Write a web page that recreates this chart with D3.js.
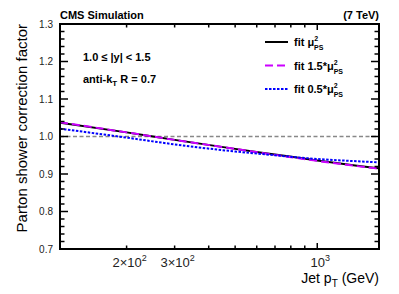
<!DOCTYPE html>
<html>
<head>
<meta charset="utf-8">
<script src="https://cdn.jsdelivr.net/npm/d3@7"></script>
<style>
  body { margin: 0; background: #fff; }
  text { font-family: "Liberation Sans", Arial, Helvetica, sans-serif; }
</style>
</head>
<body>
<div id="viz"></div>
<script>
// values
var ptPoints   = [114, 200, 300, 500, 700, 1000, 1400, 1684];
var fitNominal = [1.037, 1.011, 0.991, 0.967, 0.952, 0.936, 0.922, 0.915];
var fitUp      = [1.038, 1.011, 0.991, 0.967, 0.951, 0.935, 0.921, 0.914];
var fitDown    = [1.021, 0.997, 0.979, 0.960, 0.950, 0.940, 0.934, 0.931];
var refLevel   = [1.0, 1.0];
var refPt      = [114, 1684];

var yTicks       = [0.7, 0.8, 0.9, 1.0, 1.1, 1.2, 1.3];
var yMinorTicks  = d3.range(35, 66).map(function(i) { return i / 50; });
var xLabelTicks  = [200, 300, 1000];
var xLabelBase   = ["2×10", "3×10", "10"];
var xLabelExp    = ["2", "2", "3"];
var xMinorTicks  = [200, 300, 400, 500, 600, 700, 800, 900];
var xMajorTicks  = [1000];

var legendNames = ["fit μ", "fit 1.5*μ", "fit 0.5*μ"];

var W = 399, H = 294;
// frame edges (window.top is read-only, so don't name these top/left)
var frameL = 60, frameR = 379, frameT = 24, frameB = 249;

var svg = d3.select('#viz').append('svg')
  .attr('width', W).attr('height', H);

var x = d3.scaleLog().domain([114, 1684]).range([frameL, frameR]);
var y = d3.scaleLinear().domain([0.7, 1.3]).range([frameB, frameT]);

// clip curves to the frame
svg.append('clipPath').attr('id', 'frame')
  .append('rect').attr('x', frameL).attr('y', frameT)
  .attr('width', frameR - frameL).attr('height', frameB - frameT);

var series = [
  { values: fitNominal, color: '#000000', dash: null },
  { values: fitUp,      color: '#cc00ff', dash: '8,4' },
  { values: fitDown,    color: '#0000ff', dash: '2.5,1.5' }
];

var line = d3.line()
  .x(function(d) { return x(d[0]); })
  .y(function(d) { return y(d[1]); })
  .curve(d3.curveMonotoneX);

var plot = svg.append('g').attr('clip-path', 'url(#frame)');

// dashed reference at 1.0
plot.append('path')
  .datum(d3.zip(refPt, refLevel))
  .attr('d', line)
  .style('fill', 'none')
  .style('stroke', '#888')
  .style('stroke-width', 1.5)
  .style('stroke-dasharray', '4,2.5');

series.forEach(function(s) {
  plot.append('path')
    .datum(d3.zip(ptPoints, s.values))
    .attr('d', line)
    .style('fill', 'none')
    .style('stroke', s.color)
    .style('stroke-width', 2)
    .style('stroke-dasharray', s.dash);
});

// axes: ticks point inward, on all four sides
var yMajorLen = 8, yMinorLen = 4.5, xMajorLen = 6, xMinorLen = 3.5;

function tickLines(data, x1, y1, x2, y2) {
  svg.append('g').selectAll('line').data(data).enter()
    .append('line')
    .style('stroke', '#000')
    .style('stroke-width', 1.5)
    .attr('x1', x1).attr('y1', y1).attr('x2', x2).attr('y2', y2);
}
var isMajorY = function(d) { return Math.abs(d * 10 - Math.round(d * 10)) < 1e-6; };
var yLen = function(d) { return isMajorY(d) ? yMajorLen : yMinorLen; };

tickLines(yMinorTicks, frameL, y, function(d) { return frameL + yLen(d); }, y);
tickLines(yMinorTicks, frameR, y, function(d) { return frameR - yLen(d); }, y);
tickLines(xMinorTicks, x, frameB, x, frameB - xMinorLen);
tickLines(xMinorTicks, x, frameT, x, frameT + xMinorLen);
tickLines(xMajorTicks, x, frameB, x, frameB - xMajorLen);
tickLines(xMajorTicks, x, frameT, x, frameT + xMajorLen);

// frame
svg.append('rect')
  .attr('x', frameL).attr('y', frameT)
  .attr('width', frameR - frameL).attr('height', frameB - frameT)
  .style('fill', 'none').style('stroke', '#000').style('stroke-width', 2);

// y tick labels
svg.append('g').selectAll('text').data(yTicks).enter()
  .append('text')
  .attr('x', frameL - 7)
  .attr('y', function(d) { return y(d) + 3.5; })
  .attr('text-anchor', 'end')
  .style('font-size', '10px')
  .style('fill', '#222')
  .text(d3.format('.1f'));

// x tick labels with exponents
var xl = svg.append('g').selectAll('text').data(xLabelTicks).enter()
  .append('text')
  .attr('x', function(d) { return x(d) + 3; })
  .attr('y', 267)
  .attr('text-anchor', 'middle')
  .style('font-size', '13px')
  .style('fill', '#222');
xl.append('tspan').text(function(d, i) { return xLabelBase[i]; });
xl.append('tspan').attr('dy', -6).style('font-size', '9px')
  .text(function(d, i) { return xLabelExp[i]; });

// axis titles
var xt = svg.append('text')
  .attr('x', frameR).attr('y', 283)
  .attr('text-anchor', 'end')
  .style('font-size', '14px');
xt.append('tspan').text('Jet p');
xt.append('tspan').attr('dy', 4).style('font-size', '10px').text('T');
xt.append('tspan').attr('dy', -4).text(' (GeV)');

svg.append('text')
  .attr('transform', 'translate(27,' + frameT + ') rotate(-90)')
  .attr('text-anchor', 'end')
  .style('font-size', '15px')
  .text('Parton shower correction factor');

// header
svg.append('text').attr('x', frameL).attr('y', 19)
  .style('font-size', '11px').style('font-weight', 'bold')
  .text('CMS Simulation');
svg.append('text').attr('x', frameR).attr('y', 19)
  .attr('text-anchor', 'end')
  .style('font-size', '11px').style('font-weight', 'bold')
  .text('(7 TeV)');

// annotations
svg.append('text').attr('x', 83).attr('y', 61)
  .style('font-size', '11px').style('font-weight', 'bold')
  .text('1.0 ≤ |y| < 1.5');
var ak = svg.append('text').attr('x', 83).attr('y', 83)
  .style('font-size', '11px').style('font-weight', 'bold');
ak.append('tspan').text('anti-k');
ak.append('tspan').attr('dy', 3).style('font-size', '8px').text('T');
ak.append('tspan').attr('dy', -3).text(' R = 0.7');

// legend
var legendY = [42, 65.5, 89];
var lg = svg.append('g').selectAll('g').data(series).enter()
  .append('g')
  .attr('transform', function(d, i) { return 'translate(265,' + legendY[i] + ')'; });
lg.append('line')
  .attr('x1', 0).attr('x2', 23).attr('y1', 0).attr('y2', 0)
  .style('stroke', function(d) { return d.color; })
  .style('stroke-width', 2)
  .style('stroke-dasharray', function(d) { return d.dash; });
var lt = lg.append('text')
  .attr('x', 29).attr('y', 4)
  .style('font-size', '11px').style('font-weight', 'bold');
lt.append('tspan').text(function(d, i) { return legendNames[i]; });
lt.append('tspan').attr('dy', -5).style('font-size', '7px').text('2');
lt.append('tspan').attr('dx', -4).attr('dy', 9).style('font-size', '7px').text('PS');
</script>
</body>
</html>
